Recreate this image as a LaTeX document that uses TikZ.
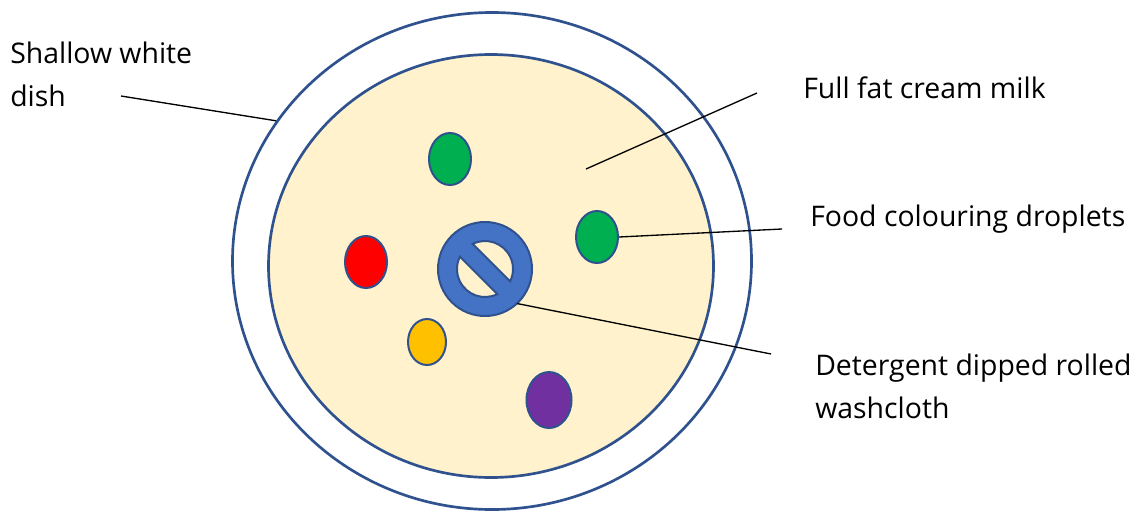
\documentclass[tikz,border=0pt]{standalone}
\usepackage{fontspec}
\setmainfont{Open Sans}
\usetikzlibrary{shapes.geometric}
\definecolor{dishline}{RGB}{47,82,143}
\definecolor{milkfill}{RGB}{255,242,204}
\definecolor{clothblue}{RGB}{68,114,196}
\definecolor{dropgreen}{RGB}{0,176,80}
\definecolor{dropred}{RGB}{255,0,0}
\definecolor{dropyellow}{RGB}{255,192,0}
\definecolor{droppurple}{RGB}{112,48,160}

\begin{document}
\begin{tikzpicture}[
  x=0.75pt,y=-0.75pt,
  every node/.style={font=\fontsize{21.3}{32}\selectfont,align=left},
  rim/.style={ellipse,draw=dishline,line width=2pt,inner sep=0pt},
  drop/.style={ellipse,draw=dishline,line width=1.5pt,inner sep=0pt},
  label/.style={anchor=base west,inner sep=0pt},
  leader/.style={draw=black,line width=1pt}
]
\useasboundingbox (0,0) rectangle (1148,511);
\node[rim,fill=white,minimum width=389.25pt,minimum height=372.75pt] (dish) at (492,261) {};
\node[rim,fill=milkfill,minimum width=333.75pt,minimum height=317.25pt] (milk) at (491,266) {};
\node[drop,fill=dropgreen,minimum width=31.5pt,minimum height=39pt] (green1) at (450,159) {};
\node[drop,fill=dropgreen,minimum width=31.5pt,minimum height=39pt] (green2) at (597,237) {};
\node[drop,fill=dropred,minimum width=31.5pt,minimum height=39pt] (red) at (366,262) {};
\node[drop,fill=dropyellow,minimum width=28.5pt,minimum height=34.5pt] (yellow) at (427,342) {};
\node[drop,fill=droppurple,minimum width=33.75pt,minimum height=42pt] (purple) at (549,400) {};
\node[circle,minimum size=70.5pt,inner sep=0pt] (cloth) at (485,269) {};
\begin{scope}[shift={(cloth.center)},rotate=-45]
\filldraw[draw=dishline,fill=clothblue,line width=1.5pt,even odd rule]
  (0,0) circle[radius=47]
  (26.5,9) arc[start angle=18.75,end angle=161.25,radius=28] -- cycle
  (-26.5,-9) arc[start angle=198.75,end angle=341.25,radius=28] -- cycle;
\end{scope}
\node[label] (dishlabel) at (10,106) {Shallow white\\dish};
\node[label] (milklabel) at (803,98) {Full fat cream milk};
\node[label] (droplabel) at (810,226) {Food colouring droplets};
\node[label] (clothlabel) at (815,418) {Detergent dipped rolled\\washcloth};
\coordinate (dishend) at (121,96);
\coordinate (milkin) at (586,169);
\coordinate (milkend) at (757,93);
\coordinate (dropend) at (782,229);
\coordinate (clothend) at (771,354);
\draw[leader] (dishend) -- (dish.147);
\draw[leader] (milkin) -- (milkend);
\draw[leader] (green2.east) -- (dropend);
\draw[leader] (cloth.-47) -- (clothend);
\end{tikzpicture}
\end{document}
